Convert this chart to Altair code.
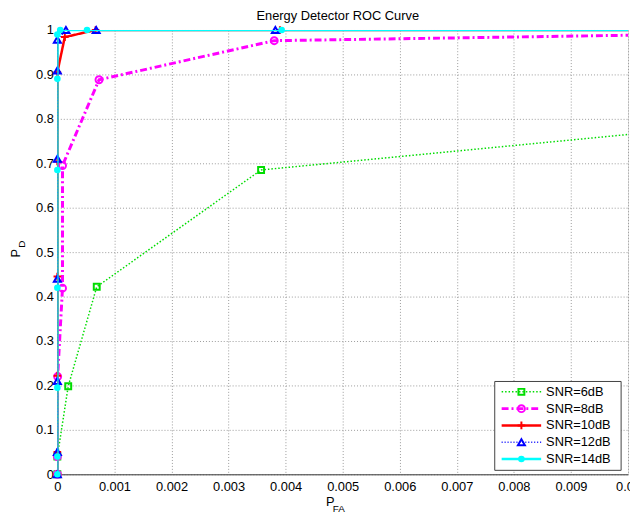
import altair as alt
import pandas as pd

# ---------------- data ----------------
series_names = ["SNR=6dB", "SNR=8dB", "SNR=10dB", "SNR=12dB", "SNR=14dB"]

pfa_6db = [0, 0, 0.00019, 0.00069, 0.00357, 0.02]
pd_6db = [0, 0.04, 0.198, 0.422, 0.685, 0.889]

pfa_8db = [0, 0, 0.000005, 0.00009, 0.00009, 0.00073, 0.0038, 0.015]
pd_8db = [0, 0.04, 0.22, 0.419, 0.695, 0.888, 0.976, 0.998]

pfa_10db = [0, 0, 0, 0, 0, 0, 0.00013, 0.00067, 0.0039, 0.02]
pd_10db = [0, 0.05, 0.222, 0.445, 0.704, 0.905, 0.984, 1.0, 1.0, 1.0]

pfa_12db = [0, 0, 0, 0, 0, 0, 0, 0.00015, 0.00068, 0.00382, 0.02]
pd_12db = [0, 0.05, 0.21, 0.44, 0.71, 0.909, 0.978, 1.0, 1.0, 1.0, 1.0]

pfa_14db = [0, 0, 0, 0, 0, 0, 0, 0.00005, 0.00052, 0.00393, 0.02]
pd_14db = [0, 0.04, 0.195, 0.42, 0.685, 0.89, 0.99, 1.0, 1.0, 1.0, 1.0]

x_ticks = [0, 0.001, 0.002, 0.003, 0.004, 0.005, 0.006, 0.007, 0.008, 0.009, 0.01]
y_ticks = [0, 0.1, 0.2, 0.3, 0.4, 0.5, 0.6, 0.7, 0.8, 0.9, 1.0]

title_text = "Energy Detector ROC Curve"
x_title_main, x_title_sub = "P", "FA"
y_title_main, y_title_sub = "P", "D"

series_data = {
    "SNR=6dB": (pfa_6db, pd_6db),
    "SNR=8dB": (pfa_8db, pd_8db),
    "SNR=10dB": (pfa_10db, pd_10db),
    "SNR=12dB": (pfa_12db, pd_12db),
    "SNR=14dB": (pfa_14db, pd_14db),
}

# ---------------- styles ----------------
FONT = "Liberation Sans"
PLUS = "M-1,0L1,0M0,-1L0,1"
styles = {
    "SNR=6dB": dict(color="#00dd00", dash=[1.5, 2], width=1.5, shape="square", filled=False, size=36, sw=2),
    "SNR=8dB": dict(color="#ff00ff", dash=[7, 3, 2, 3], width=3, shape="circle", filled=False, size=50, sw=2),
    "SNR=10dB": dict(color="#ff0000", dash=[1, 0], width=2.5, shape=PLUS, filled=False, size=60, sw=2),
    "SNR=12dB": dict(color="#0000ff", dash=[1, 2], width=1.5, shape="triangle-up", filled=False, size=50, sw=2),
    "SNR=14dB": dict(color="#00ffff", dash=[1, 0], width=2.5, shape="circle", filled=True, size=45, sw=1),
}

xscale = alt.Scale(domain=[0, 0.01], nice=False, zero=False)
yscale = alt.Scale(domain=[0, 1], nice=False, zero=False)

axis_common = dict(
    format="~g", grid=True, gridDash=[1, 2], gridColor="#9a9a9a", gridWidth=1,
    ticks=False, domainColor="#404040", labelFontSize=13, labelColor="black",
    labelFont=FONT, labelFlush=False, labelOverlap=False, labelBound=False, title=None,
)
x_axis = alt.Axis(values=x_ticks, labelPadding=6, **axis_common)
y_axis = alt.Axis(values=y_ticks, labelPadding=4, **axis_common)

X = alt.X("pfa:Q", scale=xscale, axis=x_axis)
Y = alt.Y("pd:Q", scale=yscale, axis=y_axis)

layers = []
for name in series_names:
    pfa, pdv = series_data[name]
    df = pd.DataFrame({"pfa": pfa, "pd": pdv, "idx": list(range(len(pfa)))})
    st = styles[name]
    line = alt.Chart(df).mark_line(
        color=st["color"], strokeDash=st["dash"], strokeWidth=st["width"], clip=True
    ).encode(x=X, y=Y, order=alt.Order("idx:Q"))
    pts = alt.Chart(df).transform_filter(alt.datum.pfa <= 0.01).mark_point(
        shape=st["shape"], filled=st["filled"], size=st["size"], strokeWidth=st["sw"],
        color=st["color"], opacity=1,
    ).encode(x=X, y=Y)
    layers += [line, pts]

# ---------------- legend (drawn by hand, MATLAB style) ----------------
one = alt.Data(values=[{"k": 1}])
box = alt.Chart(one).mark_rect(fill="white", stroke="#404040", strokeWidth=1).encode(
    x=alt.value(443), x2=alt.value(571), y=alt.value(356), y2=alt.value(446)
)
layers.append(box)
row_y = [366.5, 383.5, 400.5, 417.5, 434.5]
for name, ry in zip(series_names, row_y):
    st = styles[name]
    d = alt.Data(values=[{"label": name}])
    layers.append(
        alt.Chart(d).mark_rule(color=st["color"], strokeDash=st["dash"], strokeWidth=st["width"]).encode(
            x=alt.value(450), x2=alt.value(490), y=alt.value(ry)
        )
    )
    layers.append(
        alt.Chart(d).mark_point(
            shape=st["shape"], filled=st["filled"], size=st["size"], strokeWidth=st["sw"],
            color=st["color"], opacity=1,
        ).encode(x=alt.value(470), y=alt.value(ry))
    )
    layers.append(
        alt.Chart(d).mark_text(align="left", baseline="middle", fontSize=13, font=FONT, color="black").encode(
            x=alt.value(495), y=alt.value(ry), text="label:N"
        )
    )

# ---------------- titles (with subscripts) ----------------
def txt(s, x, y, size, angle=0):
    return alt.Chart(alt.Data(values=[{"t": s}])).mark_text(
        align="center", baseline="middle", fontSize=size, font=FONT, color="black", angle=angle
    ).encode(x=alt.value(x), y=alt.value(y), text="t:N")

layers += [
    txt(title_text, 284, -14, 13),
    txt(x_title_main, 276.5, 478.5, 13),
    txt(x_title_sub, 285, 485, 10),
    txt(y_title_main, -42, 226, 13, 270),
    txt(y_title_sub, -36, 217, 10, 270),
]

chart = alt.layer(*layers).properties(
    width=578,
    height=450,
    autosize=alt.AutoSizeParams(type="none"),
    padding={"left": 50, "top": 19, "right": 2, "bottom": 42},
).configure_view(stroke="#404040", strokeWidth=1).configure(background="white")

chart.save("out.html", embed_options={"renderer": "svg", "actions": False})
